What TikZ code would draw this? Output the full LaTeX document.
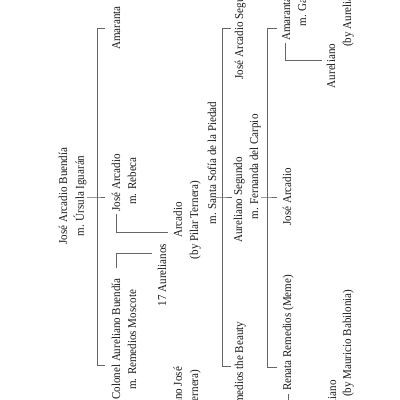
\documentclass[tikz,border=0pt]{standalone}
\usepackage{fontspec}
\setmainfont{Liberation Serif}

\begin{document}
\begin{tikzpicture}[x=1pt, y=-1pt,
    person/.style={rotate=90, xscale=0.92, anchor=base, inner sep=0pt, text=black!90,
      font=\fontsize{12pt}{14pt}\selectfont},
    tree/.style={line width=0.7pt, black!60}]
  \useasboundingbox (0,0) rectangle (400,400);
  \clip (0,0) rectangle (400,400);
  % parents
  \node[person] (jab1) at (67,196) {José Arcadio Buendía};
  \node[person] (jab2) at (84,196) {m. Úrsula Iguarán};
  % children
  \node[person] (ama)  at (120,28)  {Amaranta};
  \node[person] (ja1)  at (120,183) {José Arcadio};
  \node[person] (ja2)  at (136,181) {m. Rebeca};
  \node[person] (cab1) at (120,339) {Colonel Aureliano Buendía};
  \node[person] (cab2) at (136,340) {m. Remedios Moscote};
  % grandchildren
  \node[person] (aus) at (166,275) {17 Aurelianos};
  \node[person] (ar1) at (182,220) {Arcadio};
  \node[person] (ar2) at (198,220) {(by Pilar Ternera)};
  \node[person] (ar3) at (216,163) {m. Santa Sofía de la Piedad};
  \node[person] (aj1) at (182,400) {Aureliano José};
  \node[person] (aj2) at (198,409) {(by Pilar Ternera)};
  % third generation
  \node[person] (jas) at (243,30)  {José Arcadio Segundo};
  \node[person] (as1) at (242,200) {Aureliano Segundo};
  \node[person] (as2) at (258,167) {m. Fernanda del Carpio};
  \node[person] (rem) at (243,369) {Remedios the Beauty};
  % fourth generation
  \node[person] (au1)  at (290,3)   {Amaranta Úrsula};
  \node[person] (au2)  at (306,3)   {m. Gastón};
  \node[person] (jag)  at (291,197) {José Arcadio};
  \node[person] (meme) at (291,333) {Renata Remedios (Meme)};
  % fifth generation
  \node[person] (aub1) at (335,66) {Aureliano};
  \node[person, anchor=base west] (aub2) at (351,47) {(by Aureliano Babilonia)};
  \node[person, anchor=base east] (aum1) at (336,380) {Aureliano};
  \node[person, anchor=base west] (aum2) at (351,397) {(by Mauricio Babilonia)};

  % rails
  \coordinate (g1t) at (97,28);  \coordinate (g1m) at (97,197);  \coordinate (g1b) at (97,365);
  \coordinate (g3t) at (222,28); \coordinate (g3m) at (222,197); \coordinate (g3b) at (222,366);
  \coordinate (g4t) at (267,28); \coordinate (g4m) at (267,197); \coordinate (g4b) at (267,367);
  \draw[tree] (g1t) ++(8,0) -- (g1t) -- (g1b) -- ++(8,0);
  \draw[tree] (jab2.south |- g1m) -- (g1m) -- ++(8,0);
  \draw[tree] (g3t) ++(9,0) -- (g3t) -- (g3b) -- ++(9,0);
  \draw[tree] (ar3.south |- g3m) -- (g3m) -- ++(10,0);
  \draw[tree] (g4t) ++(10,0) -- (g4t) -- (g4b) -- ++(10,0);
  \draw[tree] (as2.south |- g4m) -- (g4m) -- ++(10,0);

  % single children
  \coordinate (arj)  at (168,232);
  \coordinate (ausj) at (152,253);
  \coordinate (aubj) at (322,60);
  \coordinate (aumj) at (322,420);
  \draw[tree] (ja1.west) ++(0,2) |- (arj);
  \draw[tree] (cab1.east) ++(0,-10) |- (ausj);
  \draw[tree] (au1.west) ++(0,2) |- (aubj);
  \draw[tree] (meme.west) ++(0,3) |- (aumj);
\end{tikzpicture}
\end{document}
